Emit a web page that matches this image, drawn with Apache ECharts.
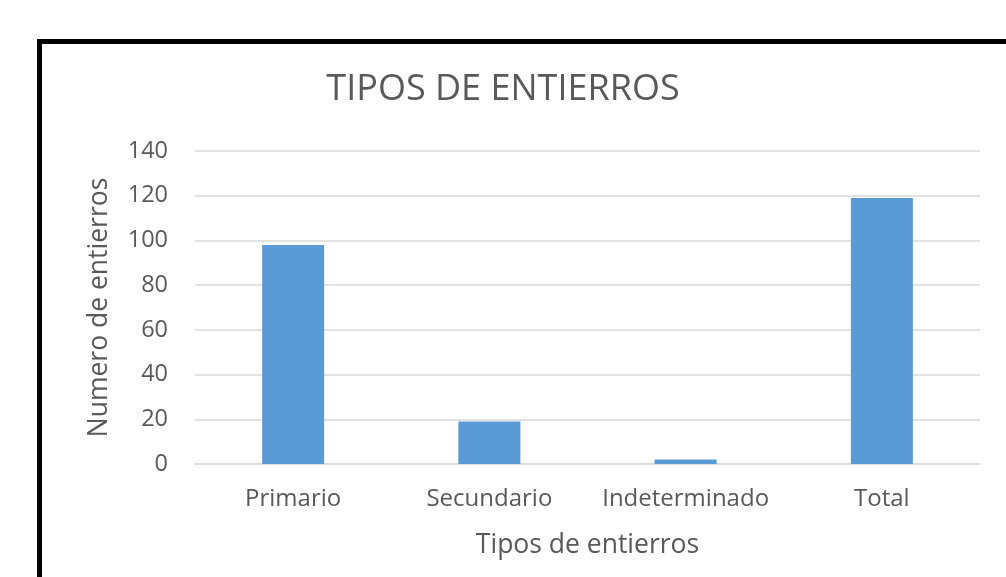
<!DOCTYPE html>
<html><head><meta charset="utf-8">
<script src="https://cdn.jsdelivr.net/npm/echarts@6/dist/echarts.min.js"></script>
<style>html,body{margin:0;padding:0;background:#fff}#c{width:1006px;height:577px}</style>
</head><body><div id="c"></div>
<script>
const categories = ['Primario', 'Secundario', 'Indeterminado', 'Total'];
const values = [98, 19, 2, 119];
const yTicks = [0, 20, 40, 60, 80, 100, 120, 140];

const chart = echarts.init(document.getElementById('c'));
const font = '"Open Sans", sans-serif';
chart.setOption({
  animation: false,
  backgroundColor: '#fff',
  title: {
    text: 'TIPOS DE ENTIERROS',
    left: 'center', top: 67,
    textStyle: { fontFamily: font, fontSize: 36, fontWeight: 'normal', color: '#595959' }
  },
  graphic: [{
    type: 'rect',
    shape: { x: 39.5, y: 41.5, width: 1100, height: 700 },
    style: { fill: 'none', stroke: '#000', lineWidth: 5 }
  }],
  grid: { left: 195, right: 26, top: 151, bottom: 113 },
  xAxis: {
    type: 'category', data: categories,
    name: 'Tipos de entierros', nameLocation: 'middle', nameGap: 68,
    nameTextStyle: { fontFamily: font, fontSize: 26.5, color: '#595959' },
    axisLine: { lineStyle: { color: '#d9d9d9', width: 1.5 } },
    axisTick: { show: false },
    axisLabel: { fontFamily: font, fontSize: 24, color: '#595959', margin: 23, interval: 0 }
  },
  yAxis: {
    type: 'value', min: yTicks[0], max: yTicks[yTicks.length - 1], interval: 20,
    name: 'Numero de entierros', nameLocation: 'middle', nameGap: 82,
    nameTextStyle: { fontFamily: font, fontSize: 26.5, color: '#595959' },
    axisLine: { show: false }, axisTick: { show: false },
    splitLine: { lineStyle: { color: '#d9d9d9', width: 1.5 } },
    axisLabel: { fontFamily: font, fontSize: 23.5, color: '#595959', margin: 27 }
  },
  series: [{
    type: 'bar', data: values, barWidth: '31.6%',
    itemStyle: { color: '#5b9bd5' }
  }]
});
</script></body></html>
